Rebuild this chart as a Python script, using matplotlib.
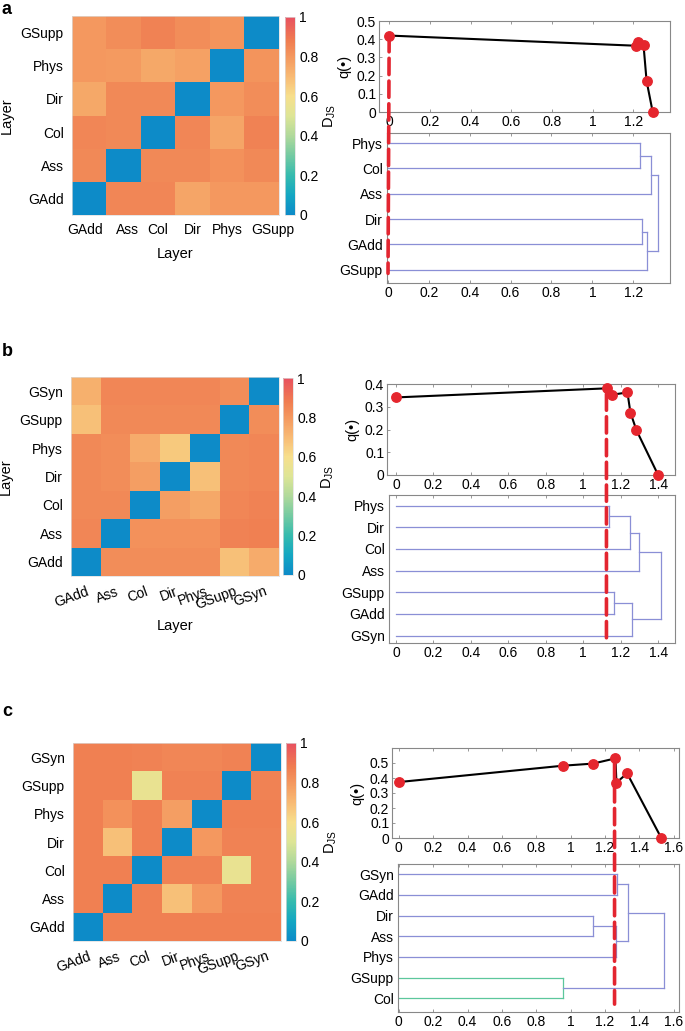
import matplotlib
matplotlib.use('Agg')
import matplotlib.pyplot as plt
from matplotlib.colors import LinearSegmentedColormap
from matplotlib.patches import ConnectionPatch
from matplotlib.transforms import ScaledTranslation
import numpy as np

plt.rcParams['font.family'] = ['Liberation Sans', 'DejaVu Sans']
plt.rcParams['font.size'] = 10
plt.rcParams['mathtext.fontset'] = 'custom'
plt.rcParams['mathtext.rm'] = 'Liberation Sans'

# ---- panel a ----
layers_a = ['GAdd', 'Ass', 'Col', 'Dir', 'Phys', 'GSupp']
djs_a = [
    [0.00, 0.85, 0.85, 0.76, 0.80, 0.80],
    [0.84, 0.00, 0.84, 0.84, 0.82, 0.84],
    [0.85, 0.84, 0.00, 0.85, 0.76, 0.86],
    [0.75, 0.84, 0.84, 0.00, 0.80, 0.83],
    [0.80, 0.79, 0.75, 0.77, 0.00, 0.81],
    [0.80, 0.83, 0.86, 0.83, 0.81, 0.00],
]
q_x_a = [0.0, 1.215, 1.225, 1.25, 1.265, 1.295]
q_y_a = [0.42, 0.364, 0.385, 0.366, 0.170, 0.0]
cut_a = 0.0
leaves_a = ['Phys', 'Col', 'Ass', 'Dir', 'GAdd', 'GSupp']
links_a = [('Phys', 'Col', 1.232), (0, 'Ass', 1.288), ('Dir', 'GAdd', 1.244),
           (2, 'GSupp', 1.268), (1, 3, 1.322)]

# ---- panel b ----
layers_b = ['GAdd', 'Ass', 'Col', 'Dir', 'Phys', 'GSupp', 'GSyn']
djs_b = [
    [0.00, 0.83, 0.83, 0.83, 0.83, 0.68, 0.74],
    [0.85, 0.00, 0.82, 0.82, 0.82, 0.86, 0.87],
    [0.84, 0.84, 0.00, 0.78, 0.75, 0.85, 0.86],
    [0.84, 0.83, 0.78, 0.00, 0.68, 0.84, 0.85],
    [0.84, 0.83, 0.74, 0.66, 0.00, 0.84, 0.85],
    [0.68, 0.84, 0.84, 0.84, 0.84, 0.00, 0.83],
    [0.73, 0.85, 0.85, 0.85, 0.85, 0.83, 0.00],
]
q_x_b = [0.0, 1.128, 1.156, 1.236, 1.252, 1.284, 1.40]
q_y_b = [0.341, 0.381, 0.353, 0.363, 0.274, 0.197, 0.0]
cut_b = 1.124
leaves_b = ['Phys', 'Dir', 'Col', 'Ass', 'GSupp', 'GAdd', 'GSyn']
links_b = [('Phys', 'Dir', 1.14), (0, 'Col', 1.25), (1, 'Ass', 1.30),
           ('GSupp', 'GAdd', 1.165), (3, 'GSyn', 1.263), (2, 4, 1.414)]

# ---- panel c ----
layers_c = ['GAdd', 'Ass', 'Col', 'Dir', 'Phys', 'GSupp', 'GSyn']
djs_c = [
    [0.00, 0.87, 0.87, 0.87, 0.87, 0.87, 0.87],
    [0.87, 0.00, 0.87, 0.68, 0.80, 0.86, 0.86],
    [0.87, 0.87, 0.00, 0.86, 0.86, 0.55, 0.86],
    [0.87, 0.68, 0.87, 0.00, 0.80, 0.86, 0.86],
    [0.87, 0.82, 0.87, 0.78, 0.00, 0.87, 0.87],
    [0.87, 0.87, 0.55, 0.86, 0.86, 0.00, 0.86],
    [0.87, 0.87, 0.86, 0.85, 0.85, 0.86, 0.00],
]
q_x_c = [0.0, 0.955, 1.13, 1.26, 1.266, 1.328, 1.527]
q_y_c = [0.373, 0.482, 0.496, 0.531, 0.369, 0.431, 0.0]
cut_c = 1.255
leaves_c = ['GSyn', 'GAdd', 'Dir', 'Ass', 'Phys', 'GSupp', 'Col']
links_c = [('GSyn', 'GAdd', 1.269), ('Dir', 'Ass', 1.131), (1, 'Phys', 1.265),
           (0, 2, 1.336), ('GSupp', 'Col', 0.953), (3, 4, 1.543)]

color_threshold = 1.0

cmap = LinearSegmentedColormap.from_list('djs', [
    (0.0, '#0d8bc8'), (0.1, '#14a7c2'), (0.2, '#36bbae'), (0.3, '#74caa2'),
    (0.4, '#b0d99b'), (0.5, '#dde596'), (0.6, '#f7df8c'), (0.7, '#f8ba74'),
    (0.8, '#f4985f'), (0.88, '#f07d51'), (1.0, '#e8515f')])

W, H = 685, 1031
fig = plt.figure(figsize=(6.85, 10.31), dpi=100)


def box(x0, y0, x1, y1):
    return [x0 / W, 1 - y1 / H, (x1 - x0) / W, (y1 - y0) / H]


def heatmap(hbox, cbox, layers, djs, rot, labels=True, shifts=None):
    ax = fig.add_axes(box(*hbox))
    im = ax.imshow(np.array(djs), cmap=cmap, vmin=0, vmax=1, origin='lower',
                   aspect='auto', interpolation='nearest')
    n = len(layers)
    ax.set_xticks(range(n))
    ax.set_yticks(range(n))
    ax.set_yticklabels(layers)
    if rot:
        ax.set_xticklabels(layers, rotation=20, ha='right', rotation_mode='anchor')
    else:
        ax.set_xticklabels(layers)
    ax.tick_params(length=0, pad=6, labelsize=10)
    if shifts:
        for lab, dx in zip(ax.get_xticklabels(), shifts):
            lab.set_transform(lab.get_transform() +
                              ScaledTranslation(dx / 100, 0, fig.dpi_scale_trans))
    for s in ax.spines.values():
        s.set_color('#dddddd')
        s.set_linewidth(0.5)
    if labels:
        ax.set_xlabel('Layer', labelpad=7 if not rot else 5, fontsize=10.5)
        ax.set_ylabel('Layer', labelpad=5, fontsize=10.5)
    cax = fig.add_axes(box(*cbox))
    cb = fig.colorbar(im, cax=cax, ticks=[0, 0.2, 0.4, 0.6, 0.8, 1])
    cb.ax.set_yticklabels(['0', '0.2', '0.4', '0.6', '0.8', '1'])
    cb.ax.tick_params(length=0, labelsize=10, pad=3)
    cb.outline.set_edgecolor('#dddddd')
    cb.outline.set_linewidth(0.5)
    cb.set_label(r'D$_{\mathregular{JS}}$', fontsize=10.5, labelpad=2)


def style_axes(ax):
    for s in ax.spines.values():
        s.set_color('#888888')
        s.set_linewidth(0.8)
    ax.tick_params(direction='in', length=2.5, width=0.6, color='#888888',
                   top=True, right=False, labelsize=10, pad=2)


def fmt(v):
    return '%g' % round(v, 1)


def qplot(qbox, qx, qy, xlim, xticks, ylim, yticks):
    ax = fig.add_axes(box(*qbox))
    ax.plot(qx, qy, color='black', lw=1.5, zorder=2)
    ax.plot(qx, qy, 'o', color='#e5262e', ms=6.8, mec='#e5262e', zorder=3,
            clip_on=False)
    ax.set_xlim(*xlim)
    ax.set_ylim(*ylim)
    ax.set_xticks(xticks)
    ax.set_xticklabels([fmt(v) for v in xticks])
    ax.set_yticks(yticks)
    ax.set_yticklabels([fmt(v) for v in yticks])
    ax.set_ylabel('q(\u2022)', labelpad=4, fontsize=10.5)
    style_axes(ax)
    return ax


def dendro(dbox, leaves, links, xlim, xticks, ylim):
    ax = fig.add_axes(box(*dbox))
    n = len(leaves)
    ypos = {name: n - i for i, name in enumerate(leaves)}
    hpos = {name: 0.0 for name in leaves}
    low = {name: True for name in leaves}
    for k, (a, b, h) in enumerate(links):
        ya, yb = ypos[a], ypos[b]
        ha, hb = hpos[a], hpos[b]
        below = low[a] and low[b] and h < color_threshold
        c = '#5cc79c' if below else '#8a8fd6'
        ax.plot([ha, h], [ya, ya], color=c, lw=0.9)
        ax.plot([hb, h], [yb, yb], color=c, lw=0.9)
        ax.plot([h, h], [ya, yb], color=c, lw=0.9)
        ypos[k] = (ya + yb) / 2
        hpos[k] = h
        low[k] = below
    ax.set_xlim(*xlim)
    ax.set_ylim(*ylim)
    ax.set_xticks(xticks)
    ax.set_xticklabels([fmt(v) for v in xticks])
    ax.set_yticks([ypos[name] for name in leaves])
    ax.set_yticklabels(leaves)
    style_axes(ax)
    ax.tick_params(axis='y', length=0, pad=3)
    return ax


def cutline(ax_top, ax_dn, x, y0, y1):
    con = ConnectionPatch(xyA=(x, y0), coordsA=ax_top.transData,
                          xyB=(x, y1), coordsB=ax_dn.transData,
                          color='#e32530', lw=2.6, linestyle=(0, (4.5, 1.8)),
                          zorder=10)
    fig.add_artist(con)


# panel a
heatmap((72, 16, 279, 215), (285, 17, 295, 215), layers_a, djs_a, False,
        shifts=[-4, 4, -1, 0, 0, 11])
ta = qplot((379, 21, 670, 112), q_x_a, q_y_a, (-0.05, 1.38),
           np.arange(0, 1.21, 0.2), (0, 0.5), np.arange(0, 0.51, 0.1))
da = dendro((387, 133, 670, 283), leaves_a, links_a, (-0.005, 1.38),
            np.arange(0, 1.21, 0.2), (0.47, 6.4))
cutline(ta, da, cut_a, q_y_a[0], 0.85)

# panel b
heatmap((71, 377, 279, 576), (283, 378, 293, 575), layers_b, djs_b, True)
tb = qplot((387, 384, 675, 475), q_x_b, q_y_b, (-0.048, 1.49),
           np.arange(0, 1.41, 0.2), (0, 0.4), np.arange(0, 0.41, 0.1))
db = dendro((389, 495, 675, 643), leaves_b, links_b, (-0.037, 1.49),
            np.arange(0, 1.41, 0.2), (0.66, 7.49))
cutline(tb, db, cut_b, 0.356, 0.66)

# panel c
heatmap((73, 743, 281, 941), (286, 743, 296, 941), layers_c, djs_c, True,
        labels=False)
tc = qplot((392, 748, 679, 838), q_x_c, q_y_c, (-0.04, 1.63),
           np.arange(0, 1.61, 0.2), (0, 0.6), np.arange(0, 0.51, 0.1))
dc = dendro((398, 864, 679, 1012), leaves_c, links_c, (-0.005, 1.63),
            np.arange(0, 1.61, 0.2), (0.34, 7.49))
cutline(tc, dc, cut_c, 0.5, 0.72)

for lab, y in [('a', 9), ('b', 351), ('c', 712)]:
    fig.text(2 / W, 1 - y / H, lab, fontsize=13, fontweight='bold', va='center')

fig.savefig('out.png', dpi=100)
